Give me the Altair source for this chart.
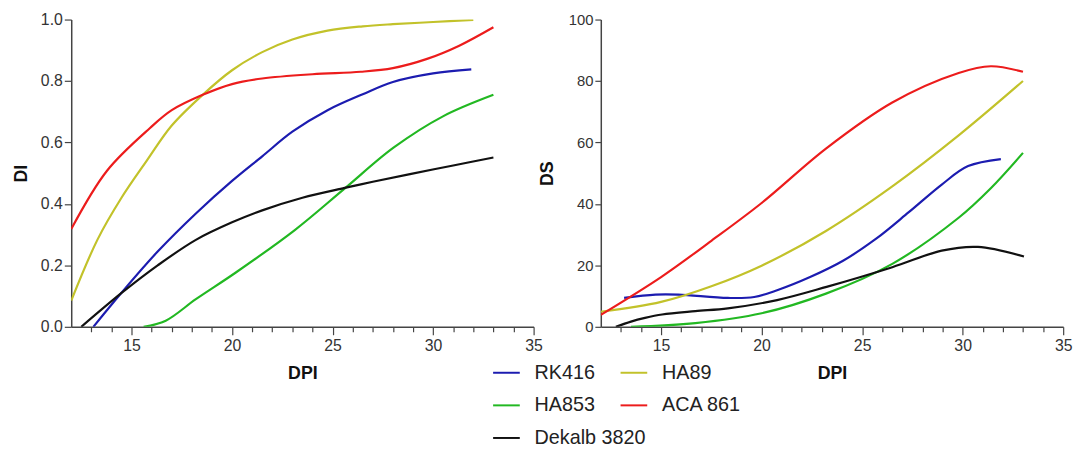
import altair as alt
import pandas as pd

order = ["RK416", "HA89", "HA853", "ACA 861", "Dekalb 3820"]
colors = ["#1c1cb0", "#c2c22a", "#22b822", "#ec1c1c", "#111111"]

# ---- DI panel (left) ----
di_rk416_x = [13.1, 14.5, 16.3, 18.2, 20.0, 21.5, 23.0, 24.75, 26.5, 28.0, 30.0, 31.9]
di_rk416_y = [0.0, 0.111, 0.245, 0.369, 0.475, 0.555, 0.635, 0.705, 0.757, 0.797, 0.825, 0.838]
di_ha89_x = [12.0, 13.3, 14.5, 15.75, 17.0, 18.54, 20.0, 21.5, 23.0, 24.75, 26.5, 28.0, 30.0, 32.0]
di_ha89_y = [0.085, 0.283, 0.42, 0.54, 0.655, 0.755, 0.835, 0.894, 0.935, 0.964, 0.978, 0.985, 0.992, 0.999]
di_ha853_x = [15.6, 16.7, 18.2, 20.17, 23.12, 25.58, 28.03, 30.49, 33.0]
di_ha853_y = [0.0, 0.02, 0.09, 0.176, 0.315, 0.449, 0.583, 0.685, 0.755]
di_aca_x = [12.0, 13.78, 15.92, 17.0, 18.54, 20.0, 21.5, 24.0, 26.4, 28.0, 29.7, 31.3, 33.0]
di_aca_y = [0.318, 0.508, 0.647, 0.705, 0.755, 0.79, 0.808, 0.822, 0.830, 0.842, 0.872, 0.915, 0.975]
di_dek_x = [12.5, 14.52, 16.3, 18.2, 20.0, 21.5, 23.5, 25.6, 27.0, 28.85, 31.0, 33.0]
di_dek_y = [0.0, 0.111, 0.2, 0.283, 0.34, 0.379, 0.42, 0.452, 0.472, 0.497, 0.525, 0.551]

# ---- DS panel (right) ----
ds_rk416_x = [13.16, 14.72, 15.86, 18.32, 19.63, 20.77, 22.41, 24.05, 25.68, 27.32, 28.96, 30.27, 31.9]
ds_rk416_y = [9.4, 10.5, 10.5, 9.4, 9.7, 11.9, 16.2, 21.5, 28.6, 37.3, 46.3, 52.3, 54.6]
ds_ha89_x = [12.0, 15.0, 17.5, 20.0, 23.2, 26.5, 29.8, 33.0]
ds_ha89_y = [4.9, 8.1, 13.2, 19.9, 31.2, 45.7, 62.3, 80.0]
ds_ha853_x = [13.5, 16.7, 20.0, 23.2, 26.5, 29.8, 31.4, 33.0]
ds_ha853_y = [0.0, 1.2, 4.4, 10.8, 20.5, 35.5, 45.1, 56.6]
ds_aca_x = [12.0, 15.0, 17.5, 20.0, 23.2, 26.5, 29.8, 31.4, 33.0]
ds_aca_y = [3.9, 16.2, 28.0, 40.3, 58.0, 73.0, 82.6, 84.8, 83.0]
ds_dek_x = [12.75, 13.5, 14.2, 15.05, 16.7, 18.32, 20.77, 23.23, 26.5, 28.96, 30.76, 33.05]
ds_dek_y = [0.0, 1.7, 2.9, 4.0, 5.1, 6.0, 8.7, 13.0, 19.4, 24.8, 26.0, 22.9]


def frame(series):
    rows = []
    for name, xs, ys in series:
        for i, (xv, yv) in enumerate(zip(xs, ys)):
            rows.append({"DPI": xv, "v": yv, "cultivar": name, "i": i})
    return pd.DataFrame(rows)


df_di = frame([
    ("RK416", di_rk416_x, di_rk416_y),
    ("HA89", di_ha89_x, di_ha89_y),
    ("HA853", di_ha853_x, di_ha853_y),
    ("ACA 861", di_aca_x, di_aca_y),
    ("Dekalb 3820", di_dek_x, di_dek_y),
])
df_ds = frame([
    ("RK416", ds_rk416_x, ds_rk416_y),
    ("HA89", ds_ha89_x, ds_ha89_y),
    ("HA853", ds_ha853_x, ds_ha853_y),
    ("ACA 861", ds_aca_x, ds_aca_y),
    ("Dekalb 3820", ds_dek_x, ds_dek_y),
])

FONT = "Liberation Sans"
W, H = 468, 311


def xaxis():
    return alt.Axis(
        title="DPI",
        values=list(range(13, 36)),
        labelExpr="datum.value % 5 === 0 ? datum.label : ''",
        tickSize={"condition": {"test": "datum.value % 5 === 0", "value": 8}, "value": 5},
        labelPadding=3,
        titlePadding=11,
        labelFlush=False,
    )


color = alt.Color(
    "cultivar:N",
    scale=alt.Scale(domain=order, range=colors),
    legend=alt.Legend(
        title=None,
        orient="none",
        legendX=426,
        legendY=343,
        direction="horizontal",
        columns=2,
        gridAlign="none",
        symbolType="stroke",
        symbolSize=729,
        symbolStrokeWidth=2,
        labelFontSize=20,
        labelFont=FONT,
        labelColor="#222",
        labelOffset=14,
        rowPadding=8,
        columnPadding=-30,
    ),
)

left = alt.Chart(df_di).mark_line(interpolate="catmull-rom", strokeWidth=2.2, clip=True).encode(
    x=alt.X("DPI:Q", scale=alt.Scale(domain=[12, 35], nice=False), axis=xaxis()),
    y=alt.Y("v:Q", scale=alt.Scale(domain=[0, 1], nice=False),
            axis=alt.Axis(title="DI", values=[0, 0.2, 0.4, 0.6, 0.8, 1.0], format=".1f",
                          tickSize=7, labelPadding=2, titlePadding=10)),
    color=color,
    order="i:Q",
).properties(width=W, height=H)

right = alt.Chart(df_ds).mark_line(interpolate="catmull-rom", strokeWidth=2.2, clip=True).encode(
    x=alt.X("DPI:Q", scale=alt.Scale(domain=[12, 35], nice=False), axis=xaxis()),
    y=alt.Y("v:Q", scale=alt.Scale(domain=[0, 100], nice=False),
            axis=alt.Axis(title="DS", values=[0, 20, 40, 60, 80, 100],
                          tickSize=6, labelPadding=2, titlePadding=12, labelFontSize=15)),
    color=color,
    order="i:Q",
).properties(width=W, height=H)

chart = alt.hconcat(left, right, spacing=68, bounds="flush").configure(
    padding={"left": 4, "top": 0, "right": 5, "bottom": 0},
).configure_view(stroke="transparent").configure_axis(
    grid=False,
    domainColor="#444",
    domainWidth=1.5,
    tickColor="#444",
    tickWidth=1.2,
    labelFont=FONT,
    labelFontSize=16,
    labelColor="#333",
    titleFont=FONT,
    titleFontSize=18,
    titleFontWeight="bold",
    titleColor="#111",
)

chart.save("out.html", embed_options={"renderer": "svg", "actions": False})
